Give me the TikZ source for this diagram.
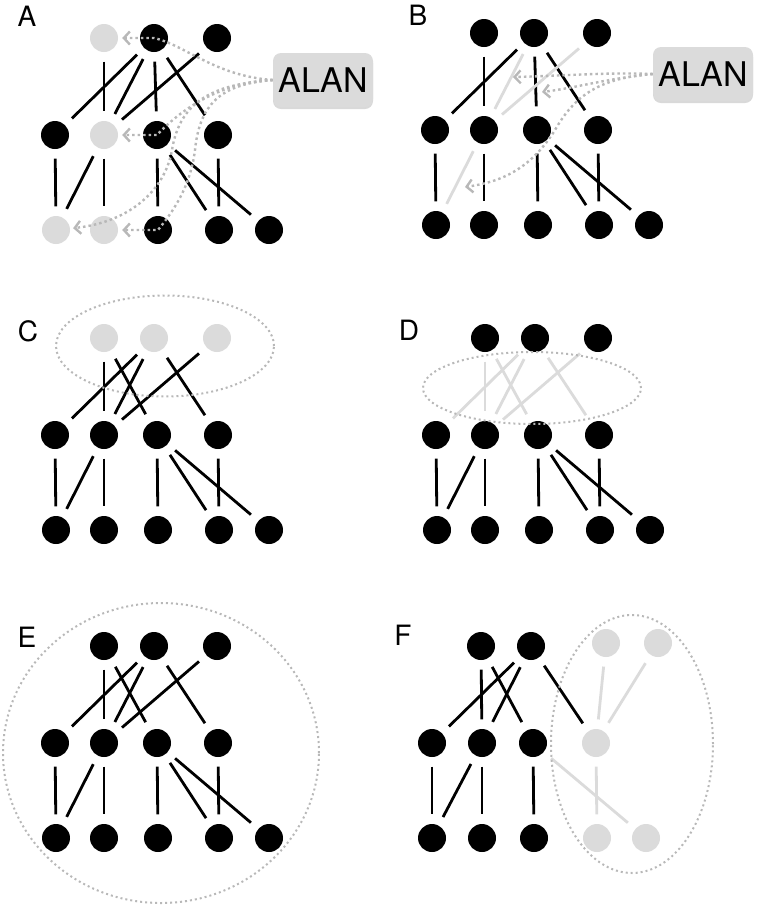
\documentclass[tikz,border=0pt]{standalone}
\usepackage{fontspec}
\setmainfont{TeX Gyre Heros}
\usetikzlibrary{arrows.meta,shadows,shapes.geometric}

\definecolor{ghostgrey}{gray}{0.86}
\definecolor{trailgrey}{gray}{0.72}
\definecolor{tagfill}{gray}{0.86}

\begin{document}
\begin{tikzpicture}[x=1pt,y=-1pt,
    unit/.style={circle,fill=black,minimum size=28pt,inner sep=0pt},
    ghost/.style={unit,fill=ghostgrey},
    link/.style={line width=2.8pt,shorten <=9.5pt,shorten >=9.5pt},
    faint/.style={link,draw=ghostgrey},
    trail/.style={draw=trailgrey,line width=2.4pt,dash pattern=on 2.5pt off 3pt,
        -{Straight Barb[length=6pt,width=13pt]}},
    hull/.style={ellipse,draw=trailgrey,line width=2pt,dash pattern=on 2pt off 3pt,inner sep=0pt},
    letter/.style={font=\fontsize{28}{32}\selectfont},
    tag/.style={rounded corners=8pt,fill=tagfill,minimum width=100pt,minimum height=54pt,
        font=\fontsize{34}{38}\selectfont,
        drop shadow={shadow xshift=0pt,shadow yshift=-2pt,opacity=0.3}}]
\useasboundingbox (0,0) rectangle (760,906);

% three layers for panels A to E
\foreach \p/\ox/\oy/\tc/\mc/\bc in {
    a/104/38/{ghost,unit,unit}/{unit,ghost,unit,unit}/{ghost,ghost,unit,unit,unit},
    b/484/33/{unit,unit,unit}/{unit,unit,unit,unit}/{unit,unit,unit,unit,unit},
    c/104/338/{ghost,ghost,ghost}/{unit,unit,unit,unit}/{unit,unit,unit,unit,unit},
    d/485/338/{unit,unit,unit}/{unit,unit,unit,unit}/{unit,unit,unit,unit,unit},
    e/104/646/{unit,unit,unit}/{unit,unit,unit,unit}/{unit,unit,unit,unit,unit}}{
  \foreach \c [count=\i] in \tc {
    \pgfmathsetmacro\x{\ox+{0,50,113}[\i-1]}
    \node[\c] (\p-t\i) at (\x,\oy) {};}
  \foreach \c [count=\i] in \mc {
    \pgfmathsetmacro\x{\ox+{-49,0,53,114}[\i-1]}
    \node[\c] (\p-m\i) at (\x,\oy+97) {};}
  \foreach \c [count=\i] in \bc {
    \pgfmathsetmacro\x{\ox+{-48,0,54,115,165}[\i-1]}
    \node[\c] (\p-b\i) at (\x,\oy+192) {};}
}

% panel F
\foreach \n/\c/\x/\y in {t1/unit/481/646,t2/unit/531/646,t3/ghost/606/643,t4/ghost/658/643,
    m1/unit/432/743,m2/unit/482/743,m3/unit/533/743,m4/ghost/596/743,
    b1/unit/432/838,b2/unit/482/838,b3/unit/534/838,b4/ghost/597/838,b5/ghost/646/838}
  \node[\c] (f-\n) at (\x,\y) {};

% connections
\foreach \u/\v in {t1/m2,t2/m1,t2/m2,t2/m3,t2/m4,t3/m2}
  \draw[link] (a-\u) -- (a-\v);
\foreach \u/\v/\s in {t1/m2/link,t2/m1/link,t2/m3/link,t2/m4/link,t2/m2/faint,t3/m2/faint,
    m1/b1/link,m2/b1/faint,m2/b2/link,m3/b3/link,m3/b4/link,m3/b5/link,m4/b4/link}
  \draw[\s] (b-\u) -- (b-\v);
\foreach \p/\s in {c/link,d/faint,e/link}
  \foreach \u/\v in {t1/m2,t1/m3,t2/m1,t2/m2,t2/m4,t3/m2}
    \draw[\s] (\p-\u) -- (\p-\v);
\foreach \p in {a,c,d,e}
  \foreach \u/\v in {m1/b1,m2/b1,m2/b2,m3/b3,m3/b4,m3/b5,m4/b4}
    \draw[link] (\p-\u) -- (\p-\v);
\foreach \u/\v/\s in {t1/m2/link,t1/m3/link,t2/m1/link,t2/m2/link,t2/m4/link,
    t3/m4/faint,t4/m4/faint,m1/b1/link,m2/b1/link,m2/b2/link,m3/b3/link,
    m3/b5/faint,m4/b4/faint}
  \draw[\s] (f-\u) -- (f-\v);

% groupings
\node[hull,minimum width=218pt,minimum height=101pt] (c-hull) at (165,346) {};
\node[hull,minimum width=218pt,minimum height=72pt] (d-hull) at (532,388) {};
\node[hull,minimum width=316pt,minimum height=300pt] (e-hull) at (161,753) {};
\node[hull,minimum width=162pt,minimum height=258pt] (f-hull) at (632,744) {};

% labels
\foreach \n/\x/\y in {A/27/16,B/418/15,C/28/331,D/409/330,E/27/637,F/403/635}
  \node[letter] (lab-\n) at (\x,\y) {\n};
\node[tag] (alan-a) at (323,80) {ALAN};
\node[tag] (alan-b) at (703,74) {ALAN};

% moves in A
\draw[trail,shorten >=4pt] (alan-a.west) .. controls (215,76) and (185,45) .. (a-t2.center) -- (a-t1);
\draw[trail,shorten >=4pt] (alan-a.west) .. controls (225,82) and (185,105) .. (a-m3.center) -- (a-m2);
\draw[trail,shorten >=3pt] (alan-a.west) .. controls (215,84) and (180,100) .. (172,150)
    .. controls (165,190) and (130,222) .. (a-b1);
\draw[trail,shorten >=4pt] (alan-a.west) .. controls (225,84) and (200,100) .. (195,150)
    .. controls (190,190) and (170,215) .. (a-b3.center) -- (a-b2);

% moves in B
\coordinate (b-tip1) at (513,77);
\coordinate (b-tip2) at (542,92);
\coordinate (b-tip3) at (465,187);
\draw[trail] (alan-b.west) .. controls (610,72) and (560,76) .. (b-tip1);
\draw[trail] (alan-b.west) .. controls (610,78) and (575,88) .. (b-tip2);
\draw[trail] (alan-b.west) .. controls (600,78) and (575,95) .. (555,130)
    .. controls (530,170) and (500,182) .. (b-tip3);
\end{tikzpicture}
\end{document}
